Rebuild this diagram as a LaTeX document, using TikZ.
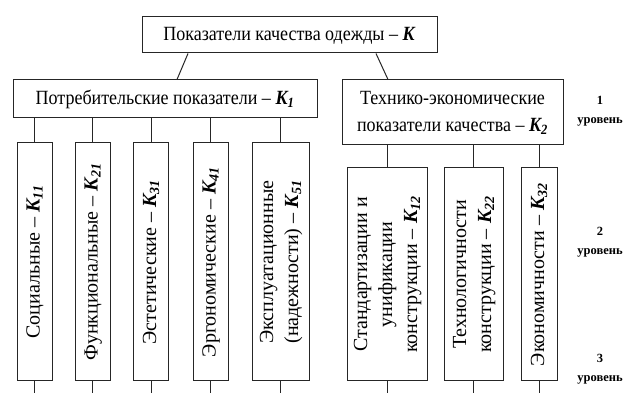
\documentclass[tikz,border=0pt]{standalone}
\usepackage{fontspec}
\usepackage{graphicx}
\setmainfont{Liberation Serif}
\newcommand{\KK}[1]{\textbf{\textit{K\textsubscript{#1}}}}
\newcommand{\vtext}[1]{\rotatebox{90}{\fontsize{20}{25}\selectfont\begin{tabular}{@{}c@{}}#1\end{tabular}}}
\newcommand{\htext}[1]{\scalebox{1}[1.12]{\fontsize{18}{24}\selectfont\begin{tabular}{@{}c@{}}#1\end{tabular}}}
\begin{document}
\begin{tikzpicture}[x=1pt,y=1pt,
  box/.style={draw=black!85,line width=1pt,rectangle,inner sep=0pt},
  conn/.style={draw=black!85,line width=1pt},
  lvl/.style={align=center,font=\fontsize{12.5}{19}\selectfont\bfseries,inner sep=0pt}]
\useasboundingbox (0,0) rectangle (630,-406);
\fill[white] (0,0) rectangle (630,-406);
% level 0
\node[box,minimum width=295,minimum height=36] (top) at (289.5,-35) {\htext{Показатели качества одежды – \textbf{\textit{K}}}};
% level 1
\node[box,minimum width=304,minimum height=38] (k1) at (165,-99) {\htext{Потребительские показатели – \KK{1}}};
\node[box,minimum width=221,minimum height=65] (k2) at (452.5,-112.5) {\htext{Технико-экономические\\показатели качества – \KK{2}}};
% level 2 left
\node[box,minimum width=35,minimum height=238] (b1) at (34.5,-262) {\vtext{Социальные – \KK{11}}};
\node[box,minimum width=35,minimum height=238] (b2) at (92.5,-262) {\vtext{Функциональные – \KK{21}}};
\node[box,minimum width=35,minimum height=238] (b3) at (151,-262) {\vtext{Эстетические – \KK{31}}};
\node[box,minimum width=35,minimum height=238] (b4) at (210.5,-262) {\vtext{Эргономические – \KK{41}}};
\node[box,minimum width=57,minimum height=238] (b5) at (280.5,-262) {\vtext{Эксплуатационные\\(надежности) – \KK{51}}};
% level 2 right
\node[box,minimum width=80,minimum height=213] (ba) at (387,-274.5) {\vtext{Стандартизации и\\унификации\\конструкции – \KK{12}}};
\node[box,minimum width=59,minimum height=213] (bb) at (473.5,-274.5) {\vtext{Технологичности\\конструкции – \KK{22}}};
\node[box,minimum width=36,minimum height=213] (bc) at (539,-274.5) {\vtext{Экономичности – \KK{32}}};
% level labels
\node[lvl] (l1) at (600,-111) {1\\уровень};
\node[lvl] (l2) at (600,-242) {2\\уровень};
\node[lvl] (l3) at (600,-369) {3\\уровень};
% diagonal connectors
\coordinate (tl) at ([xshift=-101.5]top.south);
\coordinate (tr) at ([xshift=86.5]top.south);
\coordinate (k1t) at ([xshift=12]k1.north);
\coordinate (k2t) at ([xshift=-64.5]k2.north);
\draw[conn] (tl) -- (k1t);
\draw[conn] (tr) -- (k2t);
% stubs
\foreach \b in {b1,b2,b3,b4,b5} {
  \draw[conn] (\b.north) -- (\b.north |- k1.south);
  \coordinate (\b e) at ([yshift=-12]\b.south);
  \draw[conn] (\b.south) -- (\b e);
}
\foreach \b in {ba,bb,bc} {
  \draw[conn] (\b.north) -- (\b.north |- k2.south);
  \coordinate (\b e) at ([yshift=-12]\b.south);
  \draw[conn] (\b.south) -- (\b e);
}
\end{tikzpicture}
\end{document}
